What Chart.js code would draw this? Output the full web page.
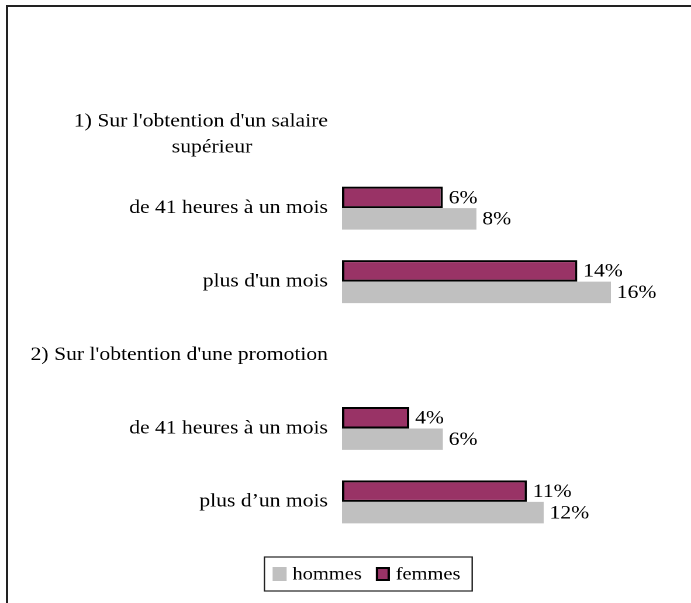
<!DOCTYPE html>
<html>
<head>
<meta charset="utf-8">
<script src="https://cdn.jsdelivr.net/npm/chart.js@4/dist/chart.umd.min.js"></script>
<style>
  html, body { margin: 0; padding: 0; background: #fff; overflow: hidden; }
  #frame { position: absolute; left: 6px; top: 5px; width: 700px; height: 610px;
           border-top: 2px solid #222; border-left: 2px solid #222; }
  /* the original picture is stretched sideways, so is the chart */
  #wrap { position: absolute; left: 0; top: 0; width: 591px; height: 603px;
          transform: scaleX(1.1692); transform-origin: 0 0; }
</style>
</head>
<body>
<div id="frame"></div>
<div id="wrap"><canvas id="chart"></canvas></div>
<script>
const categories = [
  ["1) Sur l'obtention d'un salaire", 'supérieur'],
  'de 41 heures à un mois',
  "plus d'un mois",
  "2) Sur l'obtention d'une promotion",
  'de 41 heures à un mois',
  'plus d’un mois',
];
const femmes = [null, 6, 14, null, 4, 11];
const hommes = [null, 8, 16, null, 6, 12];
const seriesNames = ['femmes', 'hommes'];

const FONT = "'Liberation Serif', 'Times New Roman', serif";
const FONT_SIZE = 18.5;

// centre the lines of a wrapped label against each other (Excel style)
// trailing nbsp's, plain spaces get dropped at the end of a right aligned line
const NBSP = '\u00A0';
const mctx = document.createElement('canvas').getContext('2d');
function centred(lines) {
  mctx.font = `${FONT_SIZE}px ${FONT}`;
  const w = lines.map((l) => mctx.measureText(l).width);
  const max = Math.max(...w);
  const sp = mctx.measureText(NBSP).width;
  return lines.map((l, i) => {
    const pad = Math.max(0, (max - w[i]) / 2 - 8);
    return l + NBSP.repeat(Math.round(pad / sp));
  });
}

const valueLabels = {
  id: 'valueLabels',
  afterDatasetsDraw(chart) {
    const ctx = chart.ctx;
    ctx.save();
    ctx.font = `${FONT_SIZE}px ${FONT}`;
    ctx.fillStyle = '#000';
    ctx.textAlign = 'left';
    ctx.textBaseline = 'middle';
    chart.data.datasets.forEach((ds, di) => {
      chart.getDatasetMeta(di).data.forEach((bar, i) => {
        if (ds.data[i] == null) return;
        ctx.fillText(ds.data[i] + '%', bar.x + 5, bar.y + 1);
      });
    });
    ctx.restore();
  },
};

// boxed legend, hommes first
const boxLegend = {
  id: 'boxLegend',
  afterDraw(chart) {
    const ctx = chart.ctx;
    const items = chart.data.datasets.slice().reverse();
    const fs = 17.5, sq = 12, sqH = 14, gap = 5, itemGap = 12, padL = 7, padR = 10;
    ctx.save();
    ctx.font = `${fs}px ${FONT}`;
    const widths = items.map((d) => ctx.measureText(d.label).width);
    const total = padL + widths.reduce((s, w) => s + sq + gap + w, 0) + itemGap * (items.length - 1) + padR;
    const cx = 315, cy = 574;
    let x = cx - total / 2;
    ctx.strokeStyle = '#222';
    ctx.lineWidth = 1.2;
    ctx.strokeRect(x, cy - 17, total, 34);
    x += padL;
    ctx.textBaseline = 'middle';
    ctx.textAlign = 'left';
    items.forEach((d, i) => {
      ctx.fillStyle = d.backgroundColor;
      ctx.fillRect(x, cy - sqH / 2, sq, sqH);
      if (d.borderWidth) {
        ctx.strokeStyle = d.borderColor;
        ctx.lineWidth = 2;
        ctx.strokeRect(x + 1, cy - sqH / 2 + 1, sq - 2, sqH - 2);
      }
      x += sq + gap;
      ctx.fillStyle = '#000';
      ctx.fillText(d.label, x, cy + 1);
      x += widths[i] + itemGap;
    });
    ctx.restore();
  },
};

new Chart(document.getElementById('chart'), {
  type: 'bar',
  data: {
    labels: categories,
    datasets: [
      { label: seriesNames[0], data: femmes, backgroundColor: '#993366', borderColor: '#000', borderWidth: 2, borderSkipped: false },
      { label: seriesNames[1], data: hommes, backgroundColor: '#c0c0c0', borderWidth: 0 },
    ],
  },
  options: {
    indexAxis: 'y',
    responsive: true,
    maintainAspectRatio: false,
    devicePixelRatio: 2,
    animation: false,
    layout: { padding: { top: 98, bottom: 64.4, left: 0, right: 11 } },
    datasets: { bar: { categoryPercentage: 0.585, barPercentage: 1 } },
    plugins: { legend: { display: false }, tooltip: { enabled: false } },
    scales: {
      x: { display: false, min: 0, max: 20 },
      y: {
        grid: { display: false, drawTicks: false },
        border: { display: false },
        afterFit: (s) => { s.width = 292.5; },
        ticks: {
          autoSkip: false,
          padding: 12,
          color: '#000',
          font: { family: FONT, size: FONT_SIZE, lineHeight: 26 / FONT_SIZE },
          callback: (v, i) => (Array.isArray(categories[i]) ? centred(categories[i]) : categories[i]),
        },
      },
    },
  },
  plugins: [valueLabels, boxLegend],
});
</script>
</body>
</html>
